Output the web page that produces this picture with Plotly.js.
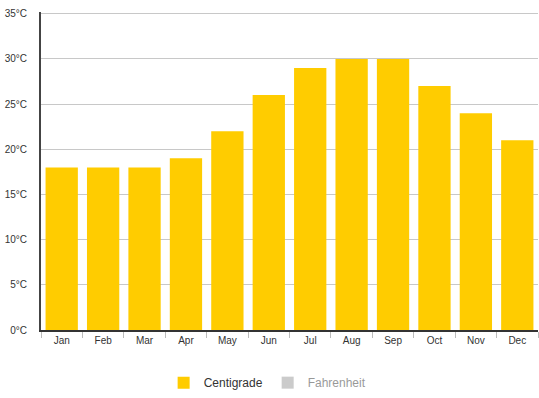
<!DOCTYPE html>
<html>
<head>
<meta charset="utf-8">
<script src="https://cdn.plot.ly/plotly-3.0.1.min.js"></script>
<style>html,body{margin:0;padding:0;background:#fff;}#chart{width:539px;height:398px;}</style>
</head>
<body>
<div id="chart"></div>
<script>
const months = ["Jan","Feb","Mar","Apr","May","Jun","Jul","Aug","Sep","Oct","Nov","Dec"];
const centigrade = [18,18,18,19,22,26,29,30,30,27,24,21];
const fahrenheit = [64,64,64,66,72,79,84,86,86,81,75,70];
const yTicks = [0,5,10,15,20,25,30,35];

const data = [
  {type:"bar", name:"Centigrade", x:months, y:centigrade, marker:{color:"#FFCC00"}, hoverinfo:"none"},
  {type:"bar", name:"Fahrenheit", x:months, y:fahrenheit, marker:{color:"#999999"}, visible:"legendonly", hoverinfo:"none"}
];
const layout = {
  width:539, height:398,
  margin:{l:41, r:1, t:12, b:66},
  paper_bgcolor:"#fff", plot_bgcolor:"#fff",
  font:{family:"Liberation Sans, Arial, sans-serif", size:10, color:"#333"},
  bargap:0.22,
  showlegend:true,
  legend:{orientation:"h", x:0.456, xanchor:"center", y:-0.12, yanchor:"top", font:{size:12, color:"#333"}, itemwidth:30},
  xaxis:{type:"category", showgrid:false, showline:true, linecolor:"#333", linewidth:2, ticks:"outside", tickson:"boundaries", ticklen:6, tickcolor:"#bbb", tickfont:{size:10, color:"#333"}, fixedrange:true},
  yaxis:{range:[0,35.2], tickvals:yTicks, ticktext:yTicks.map(v=>v+"°C"), showgrid:true, gridcolor:"#c8c8c8", gridwidth:1, showline:true, linecolor:"#444", linewidth:2, zeroline:false, ticks:"outside", ticklen:10, tickcolor:"rgba(0,0,0,0)", tickfont:{size:10, color:"#333"}, fixedrange:true}
};
Plotly.newPlot("chart", data, layout, {displayModeBar:false, staticPlot:true});
</script>
</body>
</html>
